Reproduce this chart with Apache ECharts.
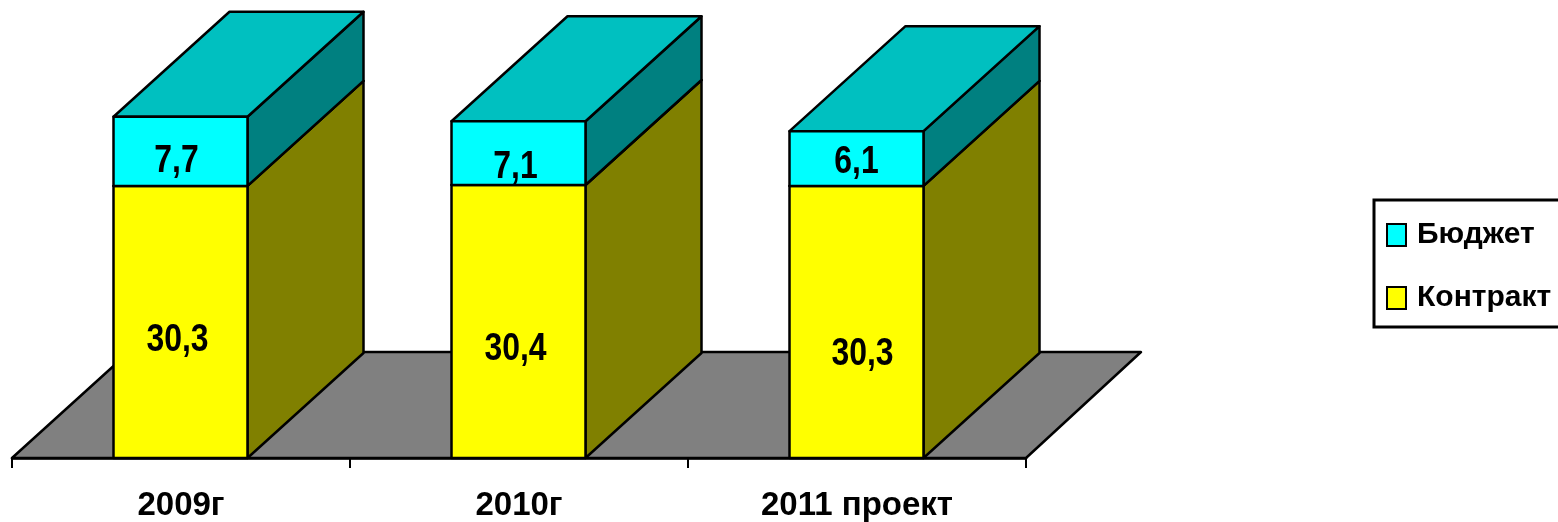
<!DOCTYPE html>
<html>
<head>
<meta charset="utf-8">
<style>html,body{margin:0;padding:0;background:#fff;overflow:hidden}#c{width:1558px;height:522px}</style>
<script src="https://cdn.jsdelivr.net/npm/echarts@6/dist/echarts.min.js"></script>
</head>
<body>
<div id="c"></div>
<script>
var categories = ['2009г', '2010г', '2011 проект'];
var contract = [30.3, 30.4, 30.3];
var budget = [7.7, 7.1, 6.1];
var seriesNames = ['Бюджет', 'Контракт'];

var FONT = '"Liberation Sans",Arial,sans-serif';
var DX = 116, DY = -105, BAR_W = 134, LINE = 2.5, SHIFT = -0.5;
var nudgeContract = [[-3, 19], [-3, 28], [6, 33]];
var nudgeBudget = [[-4, 10], [-3, 14], [0, 4]];

function fmt(v) { return String(v).replace('.', ','); }

function barRenderer(values, bases, colors, nudges) {
  return function (params, api) {
    var i = api.value(0);
    var c = api.coord([i, bases ? bases[i] : 0]);
    var t = api.coord([i, (bases ? bases[i] : 0) + values[i]]);
    var cx = c[0] + SHIFT;
    var x0 = cx - BAR_W / 2, x1 = cx + BAR_W / 2, y0 = c[1], y1 = t[1];
    var st = function (fill) { return { fill: fill, stroke: '#000', lineWidth: LINE, lineJoin: 'round' }; };
    return {
      type: 'group',
      children: [
        { type: 'polygon', shape: { points: [[x1, y0], [x1 + DX, y0 + DY], [x1 + DX, y1 + DY], [x1, y1]] }, style: st(colors.side) },
        { type: 'polygon', shape: { points: [[x0, y1], [x1, y1], [x1 + DX, y1 + DY], [x0 + DX, y1 + DY]] }, style: st(colors.top) },
        { type: 'rect', shape: { x: x0, y: y1, width: x1 - x0, height: y0 - y1 }, style: st(colors.front) },
        { type: 'text',
          x: cx + nudges[i][0], y: (y0 + y1) / 2 + nudges[i][1], scaleX: 0.84, scaleY: 1,
          style: {
            x: 0, y: 0,
            text: fmt(values[i]), fill: '#000', align: 'center', verticalAlign: 'middle',
            font: 'bold 38px ' + FONT } }
      ]
    };
  };
}

function floorRenderer(params, api) {
  var s = params.coordSys, yb = s.y + s.height, depthY = -106;
  return {
    type: 'polygon',
    shape: { points: [[s.x, yb], [s.x + s.width, yb], [s.x + s.width + 115, yb + depthY], [s.x + 117, yb + depthY]] },
    style: { fill: '#808080', stroke: '#000', lineWidth: LINE, lineJoin: 'round' }
  };
}

var chart = echarts.init(document.getElementById('c'), null, { renderer: 'canvas' });
chart.setOption({
  animation: false,
  backgroundColor: '#fff',
  grid: { left: 12, top: 9, width: 1014, height: 450, containLabel: false },
  xAxis: {
    type: 'category', data: categories, boundaryGap: true,
    axisLine: { show: true, lineStyle: { color: '#000', width: 2.5 } },
    axisTick: { show: true, length: 10, alignWithLabel: false, lineStyle: { color: '#000', width: 2 } },
    axisLabel: { color: '#000', fontFamily: FONT, fontWeight: 'bold', fontSize: 33, margin: 31 },
    z: 5
  },
  yAxis: { type: 'value', min: 0, max: 50, show: false },
  legend: {
    data: seriesNames, orient: 'vertical', left: 1374, top: 200,
    backgroundColor: '#fff', borderColor: '#000', borderWidth: 3, borderRadius: 0,
    padding: [20, 14, 14, 12], itemGap: 33, itemWidth: 19, itemHeight: 22, icon: 'rect',
    textStyle: { color: '#000', fontFamily: FONT, fontWeight: 'bold', fontSize: 30, padding: [0, 0, 0, 6] },
    selectedMode: false
  },
  series: [
    { type: 'custom', name: 'floor', coordinateSystem: 'cartesian2d', data: [[0]], renderItem: floorRenderer, z: 1, silent: true },
    { type: 'custom', name: 'Контракт', coordinateSystem: 'cartesian2d', z: 2,
      data: categories.map(function (_, i) { return [i, contract[i]]; }),
      itemStyle: { color: '#FFFF00', borderColor: '#000', borderWidth: 2.5 },
      renderItem: barRenderer(contract, null, { front: '#FFFF00', side: '#808000', top: '#C0C000' }, nudgeContract) },
    { type: 'custom', name: 'Бюджет', coordinateSystem: 'cartesian2d', z: 3,
      data: categories.map(function (_, i) { return [i, budget[i]]; }),
      itemStyle: { color: '#00FFFF', borderColor: '#000', borderWidth: 2.5 },
      renderItem: barRenderer(budget, contract, { front: '#00FFFF', side: '#008080', top: '#00C0C0' }, nudgeBudget) }
  ]
});
</script>
</body>
</html>
